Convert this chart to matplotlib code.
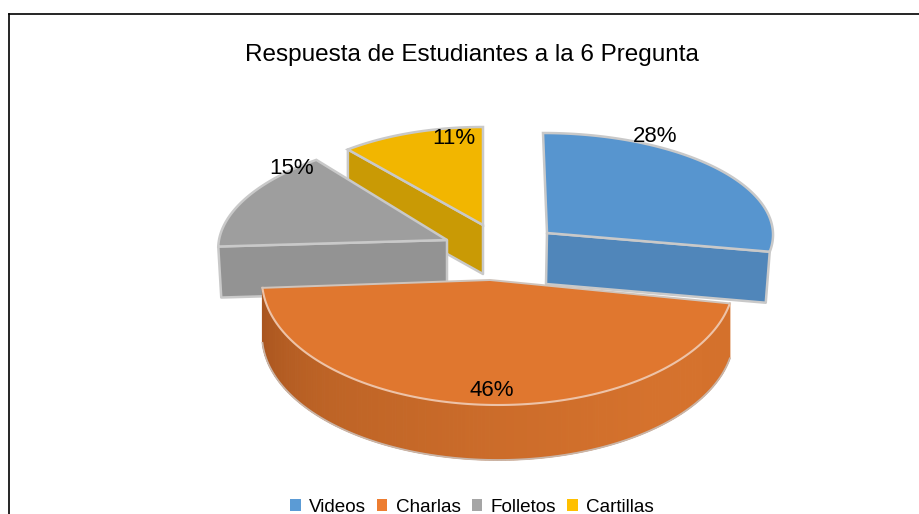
import numpy as np
import matplotlib
matplotlib.use("Agg")
import matplotlib.pyplot as plt
from matplotlib.patches import Polygon, Patch

plt.rcParams['font.family'] = ['Liberation Sans', 'DejaVu Sans']

# DATA
categories = ["Videos", "Charlas", "Folletos", "Cartillas"]
percents = [28, 46, 15, 11]
title = "Respuesta de Estudiantes a la 6 Pregunta"

# STYLE / LAYOUT (pixels)
top_colors = ["#5795CF", "#E0772F", "#9E9E9E", "#F2B600"]
side_colors = ["#5086BA", "#CC6C2A", "#939393", "#C99A05"]
legend_colors = ["#5B9BD5", "#ED7D31", "#A5A5A5", "#FFC000"]
EDGE = "#C9C9C9"
centers = [(547, 233), (498, 280), (447, 240), (483, 225)]
radii = [(226, 100), (236, 125), (228, 104), (212, 98)]
skews = [-4, 0, 19, 0]     # perspective lean of each slice
depths = [51, 55, 51, 49]
label_pos = [(655, 137), (492, 391), (292, 168), (454, 139)]

fig = plt.figure(figsize=(9.2, 5.14), dpi=100)
ax = fig.add_axes([0, 0, 1, 1])
ax.set_xlim(0, 920)
ax.set_ylim(514, 0)
ax.axis("off")


def arc(center, radius, t0, t1, dy=0.0, n=120, skew=0):
    # clockwise from 12 o'clock, y goes down on screen
    t = np.radians(np.linspace(t0, t1, n))
    x = center[0] + radius[0] * np.sin(t) + skew * np.cos(t)
    y = center[1] - radius[1] * np.cos(t) + dy
    return np.column_stack([x, y])


def cut_face(p, q, depth, color, z, inset=(0, 0)):
    pts = [p, q, (q[0] + inset[1], q[1] + depth), (p[0] + inset[0], p[1] + depth)]
    ax.add_patch(Polygon(pts, closed=True, fc=color, ec=EDGE, lw=1.8, zorder=z, joinstyle="round"))


ends = np.cumsum(percents) * 3.6
starts = np.concatenate([[0], ends[:-1]])

# Videos: front cut face and top
c, r, d = centers[0], radii[0], depths[0]
a = arc(c, r, starts[0], ends[0], skew=skews[0])
cut_face(c, a[-1], d, side_colors[0], 2, inset=(-1, -4))
ax.add_patch(Polygon(np.vstack([[c], a]), closed=True, fc=top_colors[0], ec=EDGE, lw=1.8, zorder=3))

# Cartillas: cut face on the left radius
c, r, d = centers[3], radii[3], depths[3]
a = arc(c, r, starts[3], ends[3], skew=skews[3])
cut_face(a[0], c, d, side_colors[3], 2)
ax.add_patch(Polygon(np.vstack([[c], a]), closed=True, fc=top_colors[3], ec=EDGE, lw=1.8, zorder=3))

# Folletos: cut face on the lower radius
c, r, d = centers[2], radii[2], depths[2]
a = arc(c, r, starts[2], ends[2], skew=skews[2])
cut_face(a[0], c, d, side_colors[2], 4, inset=(3, 0))
ax.add_patch(Polygon(np.vstack([[c], a]), closed=True, fc=top_colors[2], ec=EDGE, lw=1.8, zorder=5))

# Charlas: curved wall with a shading gradient, then top
c, r, d = centers[1], radii[1], depths[1]
ts = np.linspace(starts[1], ends[1], 170)
shade_t = [starts[1], 140, 180, 225, ends[1]]
shade_rgb = np.array([matplotlib.colors.to_rgb(h) for h in
                      ["#D4712C", "#D5722D", "#CC6C2A", "#BE6426", "#A9551F"]])
for t0, t1 in zip(ts[:-1], ts[1:]):
    mid = (t0 + t1) / 2
    col = [np.interp(mid, shade_t, shade_rgb[:, i]) for i in range(3)]
    up = arc(c, r, t0, t1, n=3)
    low = arc(c, r, t0, t1, dy=d, n=3)
    ax.add_patch(Polygon(np.vstack([up, low[::-1]]), closed=True, fc=col, ec=col, lw=0.8, zorder=6))
low = arc(c, r, starts[1], ends[1], dy=d)
ax.plot(low[:, 0], low[:, 1], color="#C9B5A8", lw=1.3, zorder=7)
a = arc(c, r, starts[1], ends[1])
ax.add_patch(Polygon(np.vstack([[(c[0] - 8, c[1])], a]), closed=True, fc=top_colors[1], ec="none", zorder=8))
ax.plot(a[:, 0], a[:, 1], color="#EDC3A8", lw=1.5, zorder=9)
ax.plot([a[-1, 0], c[0] - 8, a[0, 0]], [a[-1, 1], c[1], a[0, 1]], color="#CFC4BC", lw=1.4, zorder=9)

# labels
for pct, pos in zip(percents, label_pos):
    ax.text(pos[0], pos[1], f"{pct}%", fontsize=16, color="black", ha="center", va="center", zorder=10)

ax.text(472, 55, title, fontsize=17.5, color="black", ha="center", va="center")

# chart frame, only top and left show
ax.plot([9, 920], [14, 14], color="black", lw=1.2, clip_on=False)
ax.plot([9, 9], [14, 514], color="black", lw=1.2, clip_on=False)

handles = [Patch(fc=col, ec="none", label=cat) for col, cat in zip(legend_colors, categories)]
ax.legend(handles=handles, loc="center", bbox_to_anchor=(472, 507), bbox_transform=ax.transData,
          ncol=4, frameon=False, fontsize=13.6, handlelength=0.55, handleheight=0.55,
          handletextpad=0.45, columnspacing=0.58, borderpad=0, borderaxespad=0)

plt.savefig("out.png", dpi=100)
